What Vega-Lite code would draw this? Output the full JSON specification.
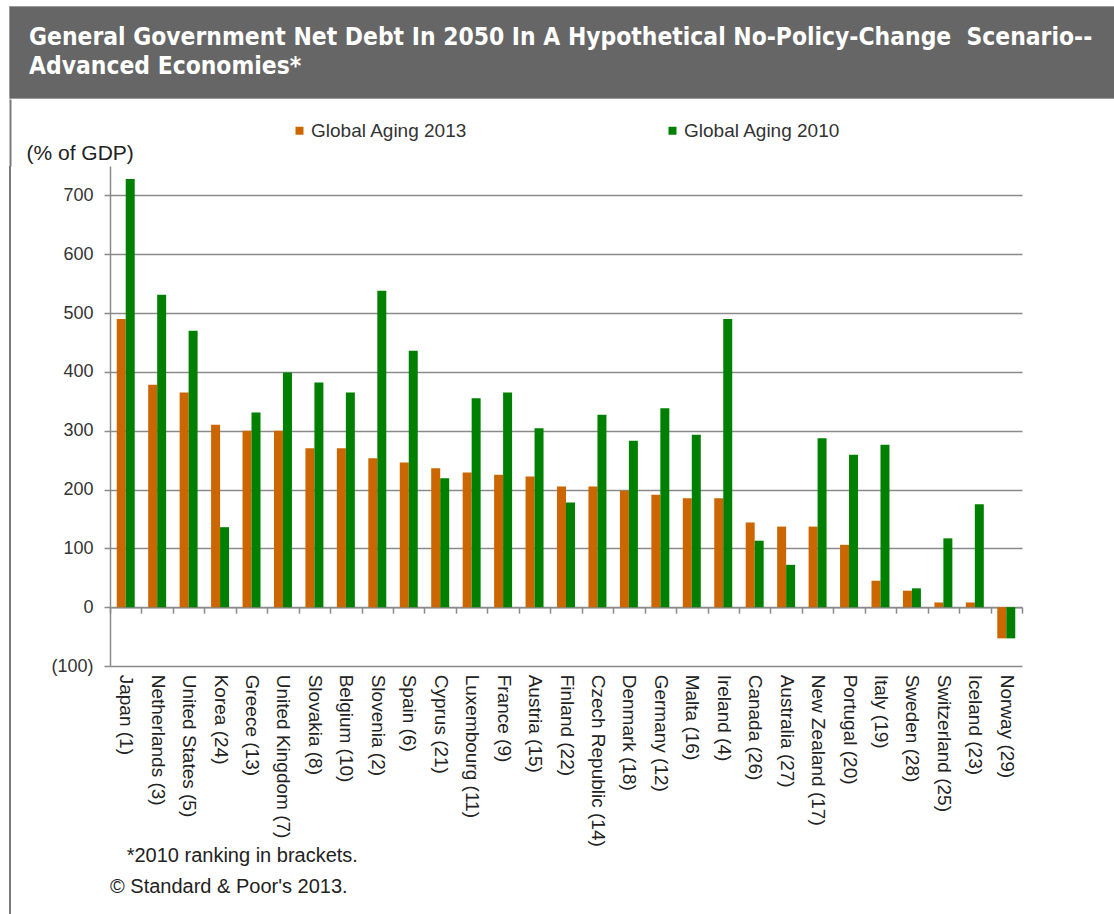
{
  "$schema": "https://vega.github.io/schema/vega-lite/v6.json",
  "padding": {"left": 8, "top": 5, "right": 0, "bottom": 0},
  "background": "white",
  "config": {"font": "Liberation Sans", "view": {"stroke": null}},
  "spacing": 68,
  "bounds": "flush",
  "vconcat": [
    {
      "width": 1106,
      "height": 92,
      "data": {"values": []},
      "mark": "point",
      "view": {"fill": "#666666", "stroke": "#9a9a9a"},
      "title": {
        "text": ["General Government Net Debt In 2050 In A Hypothetical No-Policy-Change\u00a0 Scenario--", "Advanced Economies*"],
        "orient": "top",
        "anchor": "start",
        "frame": "group",
        "offset": -73,
        "dx": 20,
        "baseline": "top",
        "font": "DejaVu Sans Condensed, Liberation Sans, sans-serif",
        "fontSize": 24.4,
        "fontWeight": "bold",
        "color": "#ffffff",
        "lineHeight": 29
      }
    },
    {
      "spacing": 99,
      "bounds": "flush",
      "hconcat": [
        {
          "width": 2,
          "height": 749,
          "data": {"values": []},
          "mark": "point",
          "view": {"fill": "#7a7a7a", "stroke": null},
          "encoding": {
            "x": {
              "field": "v",
              "type": "quantitative",
              "scale": {"domain": [0, 2], "nice": false},
              "axis": {
                "orient": "top",
                "title": null,
                "values": [1],
                "labels": false,
                "domain": false,
                "grid": false,
                "ticks": true,
                "tickSize": 67,
                "tickWidth": 2,
                "tickColor": "#7a7a7a"
              }
            }
          }
        },
        {
          "width": 912,
          "height": 500,
          "view": {"stroke": null},
          "data": {"values": [
            {"country": "Japan (1)", "series": "Global Aging 2013", "value": 490},
            {"country": "Japan (1)", "series": "Global Aging 2010", "value": 728},
            {"country": "Netherlands (3)", "series": "Global Aging 2013", "value": 378},
            {"country": "Netherlands (3)", "series": "Global Aging 2010", "value": 531},
            {"country": "United States (5)", "series": "Global Aging 2013", "value": 365},
            {"country": "United States (5)", "series": "Global Aging 2010", "value": 470},
            {"country": "Korea (24)", "series": "Global Aging 2013", "value": 310},
            {"country": "Korea (24)", "series": "Global Aging 2010", "value": 136},
            {"country": "Greece (13)", "series": "Global Aging 2013", "value": 300},
            {"country": "Greece (13)", "series": "Global Aging 2010", "value": 331},
            {"country": "United Kingdom (7)", "series": "Global Aging 2013", "value": 300},
            {"country": "United Kingdom (7)", "series": "Global Aging 2010", "value": 399},
            {"country": "Slovakia (8)", "series": "Global Aging 2013", "value": 270},
            {"country": "Slovakia (8)", "series": "Global Aging 2010", "value": 382},
            {"country": "Belgium (10)", "series": "Global Aging 2013", "value": 270},
            {"country": "Belgium (10)", "series": "Global Aging 2010", "value": 365},
            {"country": "Slovenia (2)", "series": "Global Aging 2013", "value": 253},
            {"country": "Slovenia (2)", "series": "Global Aging 2010", "value": 538},
            {"country": "Spain (6)", "series": "Global Aging 2013", "value": 246},
            {"country": "Spain (6)", "series": "Global Aging 2010", "value": 436},
            {"country": "Cyprus (21)", "series": "Global Aging 2013", "value": 236},
            {"country": "Cyprus (21)", "series": "Global Aging 2010", "value": 219},
            {"country": "Luxembourg (11)", "series": "Global Aging 2013", "value": 229},
            {"country": "Luxembourg (11)", "series": "Global Aging 2010", "value": 355},
            {"country": "France (9)", "series": "Global Aging 2013", "value": 225},
            {"country": "France (9)", "series": "Global Aging 2010", "value": 365},
            {"country": "Austria (15)", "series": "Global Aging 2013", "value": 222},
            {"country": "Austria (15)", "series": "Global Aging 2010", "value": 304},
            {"country": "Finland (22)", "series": "Global Aging 2013", "value": 205},
            {"country": "Finland (22)", "series": "Global Aging 2010", "value": 178},
            {"country": "Czech Republic (14)", "series": "Global Aging 2013", "value": 205},
            {"country": "Czech Republic (14)", "series": "Global Aging 2010", "value": 327},
            {"country": "Denmark (18)", "series": "Global Aging 2013", "value": 198},
            {"country": "Denmark (18)", "series": "Global Aging 2010", "value": 283},
            {"country": "Germany (12)", "series": "Global Aging 2013", "value": 191},
            {"country": "Germany (12)", "series": "Global Aging 2010", "value": 338},
            {"country": "Malta (16)", "series": "Global Aging 2013", "value": 185},
            {"country": "Malta (16)", "series": "Global Aging 2010", "value": 293},
            {"country": "Ireland (4)", "series": "Global Aging 2013", "value": 185},
            {"country": "Ireland (4)", "series": "Global Aging 2010", "value": 490},
            {"country": "Canada (26)", "series": "Global Aging 2013", "value": 144},
            {"country": "Canada (26)", "series": "Global Aging 2010", "value": 113},
            {"country": "Australia (27)", "series": "Global Aging 2013", "value": 137},
            {"country": "Australia (27)", "series": "Global Aging 2010", "value": 72},
            {"country": "New Zealand (17)", "series": "Global Aging 2013", "value": 137},
            {"country": "New Zealand (17)", "series": "Global Aging 2010", "value": 287},
            {"country": "Portugal (20)", "series": "Global Aging 2013", "value": 106},
            {"country": "Portugal (20)", "series": "Global Aging 2010", "value": 259},
            {"country": "Italy (19)", "series": "Global Aging 2013", "value": 45},
            {"country": "Italy (19)", "series": "Global Aging 2010", "value": 276},
            {"country": "Sweden (28)", "series": "Global Aging 2013", "value": 28},
            {"country": "Sweden (28)", "series": "Global Aging 2010", "value": 32},
            {"country": "Switzerland (25)", "series": "Global Aging 2013", "value": 8},
            {"country": "Switzerland (25)", "series": "Global Aging 2010", "value": 117},
            {"country": "Iceland (23)", "series": "Global Aging 2013", "value": 8},
            {"country": "Iceland (23)", "series": "Global Aging 2010", "value": 175},
            {"country": "Norway (29)", "series": "Global Aging 2013", "value": -53},
            {"country": "Norway (29)", "series": "Global Aging 2010", "value": -53}
          ]},
          "mark": {"type": "bar"},
          "encoding": {
            "x": {
              "field": "country",
              "type": "nominal",
              "sort": null,
              "scale": {"paddingInner": 0, "paddingOuter": 0},
              "axis": {
                "title": null,
                "orient": "bottom",
                "offset": -58.8,
                "tickBand": "extent",
                "tickSize": 6,
                "tickColor": "#8a8a8a",
                "tickWidth": 1.5,
                "domainColor": "#8a8a8a",
                "domainWidth": 1.5,
                "labelAngle": 90,
                "labelAlign": "left",
                "labelBaseline": "middle",
                "labelFontSize": 19,
                "labelColor": "#222222",
                "labelPadding": 61,
                "labelLimit": 400,
                "grid": false
              }
            },
            "xOffset": {
              "field": "series",
              "sort": ["Global Aging 2013", "Global Aging 2010"],
              "scale": {"paddingInner": 0, "paddingOuter": 0.75}
            },
            "y": {
              "field": "value",
              "type": "quantitative",
              "scale": {"domain": [-100, 750], "nice": false},
              "axis": {
                "title": "(% of GDP)",
                "titleAngle": 0,
                "titleAlign": "left",
                "titleBaseline": "alphabetic",
                "titleX": -84,
                "titleY": -7,
                "titleFontSize": 21,
                "titleFontWeight": "normal",
                "titleColor": "#222222",
                "values": [-100, 0, 100, 200, 300, 400, 500, 600, 700],
                "labelExpr": "datum.value < 0 ? '(' + (-datum.value) + ')' : datum.label",
                "labelFontSize": 18,
                "labelColor": "#333333",
                "labelPadding": 11,
                "tickSize": 6,
                "tickColor": "#8a8a8a",
                "tickWidth": 1.5,
                "domainColor": "#8a8a8a",
                "domainWidth": 1.5,
                "grid": true,
                "gridColor": "#8a8a8a",
                "gridWidth": 1.5
              }
            },
            "color": {
              "field": "series",
              "type": "nominal",
              "scale": {"domain": ["Global Aging 2013", "Global Aging 2010"], "range": ["#cc6600", "#008000"]},
              "legend": {
                "title": null,
                "orient": "none",
                "legendX": 281,
                "legendY": 115,
                "direction": "horizontal",
                "columns": 2,
                "columnPadding": 195,
                "symbolType": "square",
                "symbolSize": 64,
                "symbolStrokeWidth": 0,
                "labelFontSize": 19,
                "labelColor": "#333333",
                "labelOffset": 2,
                "labelLimit": 300
              }
            }
          },
          "title": {
            "text": ["\u200b\u00a0\u00a0\u00a0*2010 ranking in brackets.", "\u00a9 Standard & Poor's 2013."],
            "orient": "bottom",
            "anchor": "start",
            "frame": "group",
            "offset": 0,
            "dx": 0,
            "baseline": "top",
            "fontSize": 20,
            "fontWeight": "normal",
            "color": "#222222",
            "lineHeight": 31
          }
        }
      ]
    }
  ]
}
